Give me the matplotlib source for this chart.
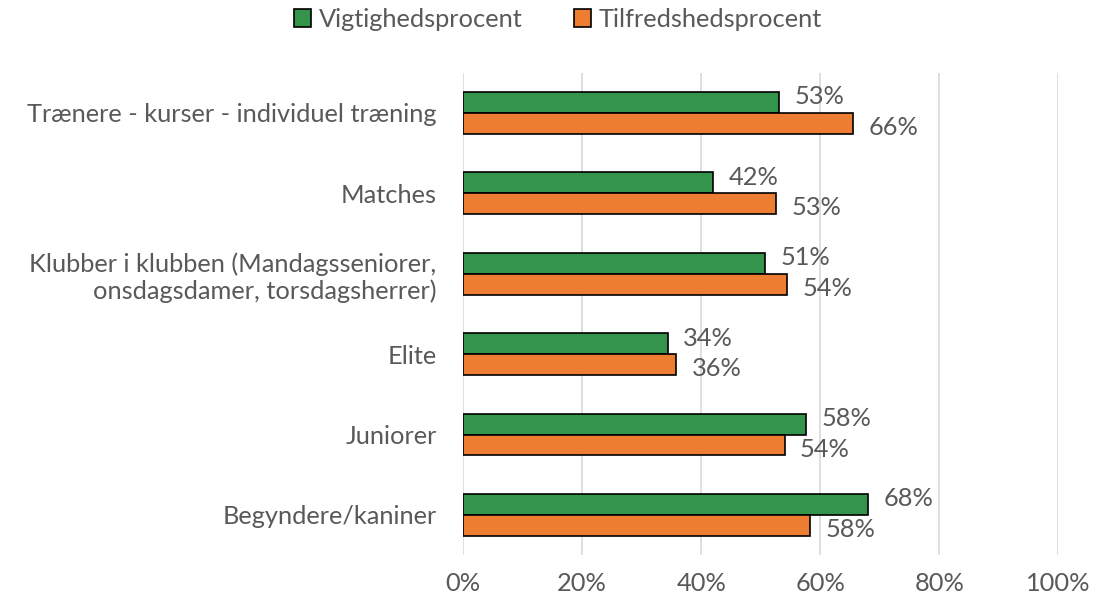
import numpy as np
import matplotlib
matplotlib.use("Agg")
import matplotlib.pyplot as plt
from matplotlib.ticker import PercentFormatter

plt.rcParams['font.family'] = ['Lato', 'DejaVu Sans']

categories = [
    "Trænere - kurser - individuel træning",
    "Matches",
    "Klubber i klubben (Mandagsseniorer,\nonsdagsdamer, torsdagsherrer)",
    "Elite",
    "Juniorer",
    "Begyndere/kaniner",
]
vigtighed = [53.1, 42.0, 50.8, 34.4, 57.6, 68.0]
tilfreds = [65.5, 52.6, 54.4, 35.8, 54.0, 58.3]
series_names = ["Vigtighedsprocent", "Tilfredshedsprocent"]
green = "#35944B"
orange = "#ED7D31"
text_col = "#595959"
fs = 18.3

fig = plt.figure(figsize=(10.94, 6.06), dpi=100)
ax = fig.add_axes([0.4232, 0.084, 0.5443, 0.796])

y = np.arange(len(categories))
h = 0.26
b1 = ax.barh(y - h / 2, vigtighed, height=h, color=green, edgecolor="black",
             linewidth=1.2, label=series_names[0], zorder=3)
b2 = ax.barh(y + h / 2, tilfreds, height=h, color=orange, edgecolor="black",
             linewidth=1.2, label=series_names[1], zorder=3)

for yy, v in zip(y, vigtighed):
    ax.annotate(f"{v:.0f}%", (v, yy - h / 2), xytext=(11, 4), textcoords="offset points",
                ha="left", va="center", fontsize=fs, color=text_col)
for yy, v in zip(y, tilfreds):
    ax.annotate(f"{v:.0f}%", (v, yy + h / 2), xytext=(11, -3), textcoords="offset points",
                ha="left", va="center", fontsize=fs, color=text_col)

ax.set_xlim(0, 100)
ax.set_ylim(len(categories) - 0.5, -0.5)
ax.set_yticks(y)
ax.set_yticklabels(categories, fontsize=fs, color=text_col)
ax.set_xticks(np.arange(0, 101, 20))
ax.xaxis.set_major_formatter(PercentFormatter(decimals=0))
ax.tick_params(axis="x", labelsize=fs, labelcolor=text_col, length=0, pad=12)
ax.tick_params(axis="y", length=0, pad=19)
ax.grid(axis="x", color="#D9D9D9", linewidth=1.2, zorder=0)
for s in ax.spines.values():
    s.set_visible(False)

fig.legend(handles=[b1, b2], loc="center", bbox_to_anchor=(0.51, 0.968), ncol=2,
           frameon=False, fontsize=fs, labelcolor=text_col, handlelength=0.7,
           handleheight=0.7, handletextpad=0.3, columnspacing=2.0)

plt.savefig("out.png", dpi=100)
